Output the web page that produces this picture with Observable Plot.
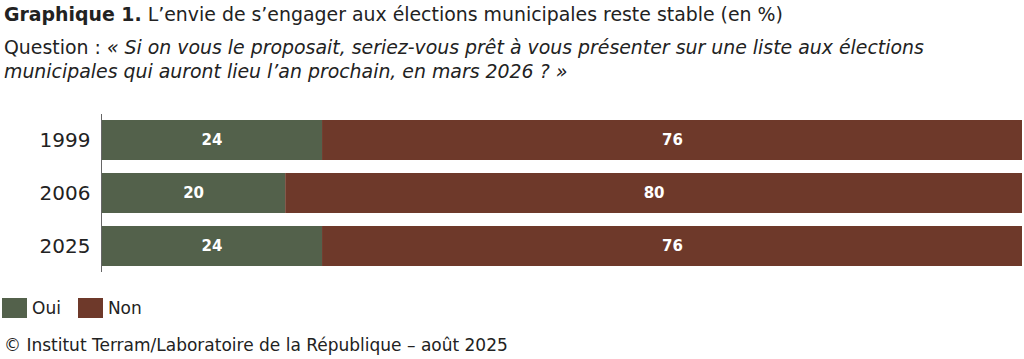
<!DOCTYPE html>
<html><head><meta charset="utf-8">
<script src="https://cdn.jsdelivr.net/npm/d3@7"></script>
<script src="https://cdn.jsdelivr.net/npm/@observablehq/plot@0.6"></script>
<style>
body{margin:0;background:#fff;font-family:"DejaVu Sans",sans-serif;color:#222;width:1024px;height:359px;overflow:hidden;position:relative}
#title{position:absolute;left:4px;top:2px;font-size:18.9px;line-height:24px;white-space:nowrap}
#title b{font-weight:700}
#sub{position:absolute;left:4px;top:35px;font-size:18.9px;line-height:24px;white-space:nowrap}
#chart{position:absolute;left:0;top:105px}
#legend{position:absolute;left:2px;top:298px;font-size:17px;display:flex;align-items:center}
#legend span.sw{display:inline-block;width:25px;height:20px;margin-right:5px}
#legend span.it{display:flex;align-items:center;margin-right:17px}
#cap{position:absolute;left:4px;top:335px;font-size:17px;white-space:nowrap}
</style></head><body>
<div id="title"><b>Graphique 1.</b> L’envie de s’engager aux élections municipales reste stable (en %)</div>
<div id="sub">Question : <i>« Si on vous le proposait, seriez-vous prêt à vous présenter sur une liste aux élections<br>municipales qui auront lieu l’an prochain, en mars 2026 ? »</i></div>
<div id="chart"></div>
<div id="legend"></div>
<div id="cap">© Institut Terram/Laboratoire de la République – août 2025</div>
<script>
const years = ["1999", "2006", "2025"];
const series = ["Oui", "Non"];
const oui = [24, 20, 24];
const non = [76, 80, 76];
const colors = ["#53614b", "#6e392a"];

const data = [];
years.forEach((y, i) => {
  data.push({year: y, answer: "Oui", value: oui[i]});
  data.push({year: y, answer: "Non", value: non[i]});
});

const chart = Plot.plot({
  width: 1024,
  height: 175,
  marginLeft: 101,
  marginRight: 2,
  marginTop: 0,
  marginBottom: 0,
  style: {fontFamily: "DejaVu Sans, sans-serif", background: "#fff"},
  x: {domain: [0, 100], axis: null},
  y: {domain: years, padding: 0.25, label: null, tickSize: 0, tickPadding: 11},
  color: {domain: series, range: colors},
  marks: [
    Plot.barX(data, Plot.stackX({x: "value", y: "year", fill: "answer", order: series})),
    Plot.textX(data, Plot.stackX({x: "value", y: "year", z: "answer", order: series, text: d => d.value, fill: "white", fontWeight: 700, fontSize: 15})),
    Plot.ruleX([0], {stroke: "#666", strokeWidth: 1, insetTop: 9, insetBottom: 8}),
    Plot.axisY({tickSize: 0, tickPadding: 11, fontSize: 20, fill: "#222", label: null})
  ]
});
document.getElementById("chart").appendChild(chart);

const lg = document.getElementById("legend");
series.forEach((s, i) => {
  const it = document.createElement("span");
  it.className = "it";
  it.innerHTML = `<span class="sw" style="background:${colors[i]}"></span>${s}`;
  lg.appendChild(it);
});
</script>
</body></html>
